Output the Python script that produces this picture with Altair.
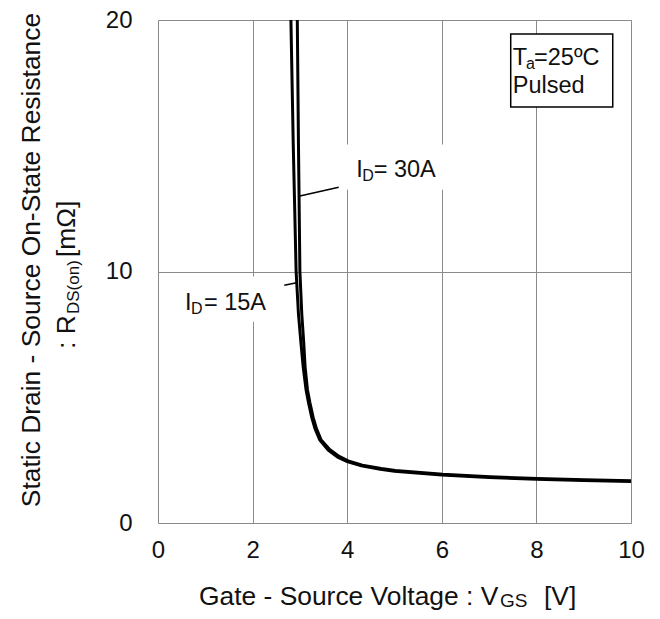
import altair as alt
import pandas as pd

# ---- data ----
vgs_15a = [2.81, 2.86, 2.92, 2.97, 3.02, 3.07, 3.13, 3.18, 3.25, 3.32, 3.42, 3.60, 3.80, 4.00, 4.30, 4.70, 5.00, 6.00, 7.00, 8.00, 9.00, 10.00]
rds_15a = [20.0, 15.0, 10.0, 8.3, 7.2, 6.2, 5.3, 4.8, 4.2, 3.75, 3.3, 2.9, 2.62, 2.44, 2.27, 2.14, 2.06, 1.91, 1.81, 1.74, 1.69, 1.65]
vgs_30a = [2.945, 2.97, 3.00, 3.04, 3.08, 3.11, 3.16, 3.21, 3.28, 3.35, 3.45, 3.63, 3.83, 4.02, 4.32, 4.72, 5.02, 6.02, 7.02, 8.02, 9.02, 10.00]
rds_30a = [20.0, 15.0, 10.0, 8.3, 7.2, 6.2, 5.3, 4.8, 4.2, 3.75, 3.3, 2.92, 2.65, 2.47, 2.30, 2.17, 2.09, 1.94, 1.84, 1.77, 1.72, 1.68]
series = ["15A", "30A"]
x_ticks = [0, 2, 4, 6, 8, 10]
y_ticks = [0, 10, 20]

rows = []
for name, xs, ys in [(series[0], vgs_15a, rds_15a), (series[1], vgs_30a, rds_30a)]:
    for i, (xv, yv) in enumerate(zip(xs, ys)):
        rows.append({"series": name, "idx": i, "vgs": xv, "rds": yv})
df = pd.DataFrame(rows)

FONT = "Liberation Sans"
INK = "#111111"
GRID = "#8a8a8a"
TICK_FS = 24
TITLE_FS = 26.4
ANNO_FS = 23.5
SUB_FS = 16

xscale = alt.Scale(domain=[0, 10], nice=False, zero=False)
yscale = alt.Scale(domain=[0, 20], nice=False, zero=False)

curves = alt.Chart(df).mark_line(color="black", strokeWidth=3, clip=True).encode(
    x=alt.X("vgs:Q", scale=xscale,
            axis=alt.Axis(values=x_ticks, title=None, grid=True, ticks=False, domain=False,
                          labelFont=FONT, labelFontSize=TICK_FS, labelColor=INK, labelPadding=15,
                          labelFlush=False, gridColor=GRID, gridWidth=1)),
    y=alt.Y("rds:Q", scale=yscale,
            axis=alt.Axis(values=y_ticks, title=None, grid=True, ticks=False, domain=False,
                          labelFont=FONT, labelFontSize=TICK_FS, labelColor=INK, labelPadding=26,
                          labelFlush=False, gridColor=GRID, gridWidth=1)),
    detail="series:N",
    order="idx:Q",
)

def box(x1, x2, y1, y2, stroke=None, sw=0):
    kw = dict(fill="white")
    if stroke:
        kw.update(stroke=stroke, strokeWidth=sw)
    return alt.Chart().mark_rect(**kw).encode(
        x=alt.datum(x1, scale=xscale), x2=alt.datum(x2),
        y=alt.datum(y1, scale=yscale), y2=alt.datum(y2))

def leader(x1, y1, x2, y2):
    return alt.Chart().mark_rule(color="black", strokeWidth=1.5).encode(
        x=alt.datum(x1, scale=xscale), x2=alt.datum(x2),
        y=alt.datum(y1, scale=yscale), y2=alt.datum(y2))

def dtext(txt, xv, yv, size=ANNO_FS):
    return alt.Chart().mark_text(text=txt, font=FONT, fontSize=size, color=INK,
                                 align="left", baseline="middle").encode(
        x=alt.datum(xv, scale=xscale), y=alt.datum(yv, scale=yscale))

def ptext(txt, px, py, size, angle=0, align="left"):
    return alt.Chart().mark_text(text=txt, font=FONT, fontSize=size, color=INK,
                                 align=align, baseline="middle", angle=angle).encode(
        x=alt.value(px), y=alt.value(py))

annos = [
    # white backgrounds behind the labels
    box(3.95, 6.07, 13.25, 15.05),
    box(0.05, 2.40, 8.0, 9.8),
    # leaders
    leader(3.00, 13.0, 3.82, 13.35),
    leader(2.93, 9.55, 2.67, 9.45),
    # I_D = 30A
    dtext("I", 4.19, 14.03),
    dtext("D", 4.32, 13.78, size=SUB_FS),
    dtext("= 30A", 4.56, 14.03),
    # I_D = 15A
    dtext("I", 0.57, 8.75),
    dtext("D", 0.70, 8.50, size=SUB_FS),
    dtext("= 15A", 0.97, 8.75),
    # condition box
    box(7.457, 9.614, 16.54, 19.44, stroke="black", sw=1.5),
    dtext("T", 7.50, 18.49),
    dtext("a", 7.78, 18.25, size=SUB_FS),
    dtext("=25ºC", 7.95, 18.49),
    dtext("Pulsed", 7.50, 17.36),
]

# axis titles (pixel positions relative to plot origin)
titles = [
    ptext("Gate - Source Voltage : V", 41, 577, TITLE_FS),
    ptext("GS", 342, 581, 19),
    ptext("[V]", 386, 577, TITLE_FS),
    ptext("Static Drain - Source On-State Resistance", -126, 240, TITLE_FS, angle=270, align="center"),
    ptext(": R", -91, 329, TITLE_FS, angle=270),
    ptext("DS(on)", -84, 294, 17, angle=270),
    ptext("[mΩ]", -91, 237, TITLE_FS, angle=270),
]

chart = alt.layer(curves, *annos, *titles).properties(
    width=473, height=503,
    autosize=alt.AutoSizeParams(type="none"),
    padding={"left": 150, "top": 12, "right": 21, "bottom": 88},
).configure_view(stroke=GRID, strokeWidth=1.2).configure(background="white")

chart.save("out.html", embed_options={"renderer": "svg", "actions": False})
